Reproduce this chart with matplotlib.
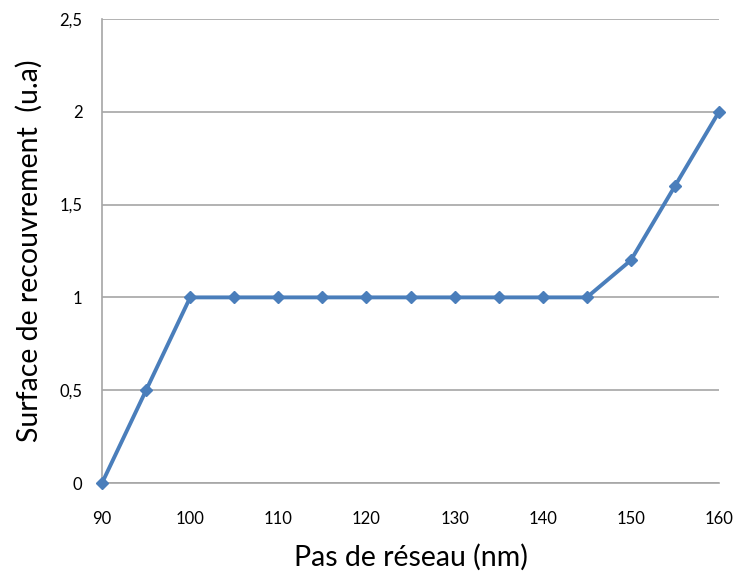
import matplotlib
matplotlib.use("Agg")
import matplotlib.pyplot as plt
from matplotlib.ticker import FuncFormatter

pas_nm = [90, 95, 100, 105, 110, 115, 120, 125, 130, 135, 140, 145, 150, 155, 160]
surface = [0, 0.5, 1, 1, 1, 1, 1, 1, 1, 1, 1, 1, 1.2, 1.6, 2]
x_ticks = [90, 100, 110, 120, 130, 140, 150, 160]
y_ticks = [0, 0.5, 1, 1.5, 2, 2.5]

plt.rcParams['font.family'] = ['Lato', 'DejaVu Sans']

fig = plt.figure(figsize=(7.34, 5.74), dpi=100)
ax = fig.add_axes([0.139, 0.1585, 0.8406, 0.8085])

ax.plot(pas_nm, surface, color='#4a7ebb', linewidth=2.8, marker='D',
        markersize=6.5, markerfacecolor='#4a7ebb', markeredgecolor='#4a7ebb',
        clip_on=False, zorder=3)

ax.set_xlim(90, 160)
ax.set_ylim(0, 2.5)
ax.set_xticks(x_ticks)
ax.set_yticks(y_ticks)
ax.yaxis.set_major_formatter(FuncFormatter(lambda v, p: f"{v:g}".replace('.', ',')))
ax.tick_params(length=0, labelsize=12, colors='black')
ax.tick_params(axis='x', pad=20)
ax.tick_params(axis='y', pad=14)

ax.grid(axis='y', color='#a6a6a6', linewidth=1.2)
ax.set_axisbelow(True)
for side in ['top', 'right']:
    ax.spines[side].set_visible(False)
for side in ['left', 'bottom']:
    ax.spines[side].set_color('#a6a6a6')
    ax.spines[side].set_linewidth(1.2)

ax.set_xlabel('Pas de réseau (nm)', fontsize=20.5, labelpad=12)
ax.set_ylabel('Surface de recouvrement  (u.a)', fontsize=20.5, labelpad=12)

fig.savefig('out.png', dpi=100)
